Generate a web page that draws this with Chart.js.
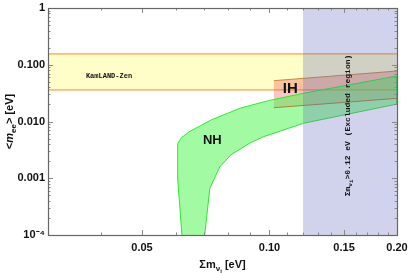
<!DOCTYPE html>
<html><head><meta charset="utf-8">
<script src="https://cdn.jsdelivr.net/npm/chart.js@4/dist/chart.umd.min.js"></script>
<style>html,body{margin:0;padding:0;background:#fff;}#wrap{width:409px;height:273px;position:relative;}</style>
</head><body><div id="wrap"><canvas id="c" width="409" height="273"></canvas></div>
<script>
// ---- data ----
const xRange = [0.03, 0.2];
const yRange = [1e-4, 1];
const xTickValues = [0.05, 0.10, 0.15, 0.20];
const xTickLabels = ['0.05', '0.10', '0.15', '0.20'];
const xMinorTicks = [0.04, 0.06, 0.07, 0.08, 0.09, 0.11, 0.12, 0.13, 0.14, 0.16, 0.17, 0.18, 0.19];
const yTickValues = [1e-4, 1e-3, 1e-2, 0.1, 1];
const yTickLabels = ['10⁻⁴', '0.001', '0.010', '0.100', '1'];
const yMinorTicks = [2e-4,3e-4,4e-4,5e-4,6e-4,7e-4,8e-4,9e-4,
                     2e-3,3e-3,4e-3,5e-3,6e-3,7e-3,8e-3,9e-3,
                     0.02,0.03,0.04,0.05,0.06,0.07,0.08,0.09,
                     0.2,0.3,0.4,0.5,0.6,0.7,0.8,0.9];
// KamLAND-Zen band
const kamlandX = [0.03, 0.2];
const kamlandLow = 0.036;
const kamlandHigh = 0.156;
// Inverted hierarchy band
const ihX = [0.1024, 0.2];
const ihUpper = [0.0524, 0.0776];
const ihLower = [0.0175, 0.0256];
// Normal hierarchy region outline
const nhX = [0.0622, 0.0607, 0.0607, 0.0620, 0.0645, 0.0727, 0.0855, 0.0995, 0.1202, 0.2,
             0.2, 0.1202, 0.0968, 0.0902, 0.0810, 0.0763, 0.0723, 0.0702];
const nhY = [9e-5, 0.00101, 0.00402, 0.00520, 0.00653, 0.0106, 0.0173, 0.0233, 0.0314, 0.0633,
             0.0203, 0.00929, 0.0054, 0.00423, 0.00257, 0.00158, 0.000665, 9e-5];
// Excluded region (sum of masses > 0.12 eV)
const excludedX = [0.12, 0.2];

const pts = (xs, ys) => xs.map((x, i) => ({x, y: ys[i]}));

const datasets = [
  { // excluded overlay
    data: pts([excludedX[0], excludedX[1], excludedX[1], excludedX[0]], [yRange[0], yRange[0], yRange[1], yRange[1]]),
    showLine: true, fill: 'shape', backgroundColor: 'rgba(100,110,190,0.3)', borderWidth: 0, borderColor: 'rgba(0,0,0,0)', order: 1
  },
  { data: pts(ihX, ihUpper), showLine: true, fill: false, borderColor: 'rgba(190,130,50,0.9)', borderWidth: 1, order: 2 },
  { data: pts(ihX, ihLower), showLine: true, fill: false, borderColor: 'rgba(170,120,50,0.9)', borderWidth: 1, order: 2 },
  { // NH
    data: pts(nhX.concat([nhX[0]]), nhY.concat([nhY[0]])),
    showLine: true, fill: 'shape', backgroundColor: 'rgba(70,245,70,0.5)', borderColor: '#2ee82e', borderWidth: 1, order: 3
  },
  { // IH fill
    data: pts([ihX[0], ihX[1], ihX[1], ihX[0]], [ihUpper[0], ihUpper[1], ihLower[1], ihLower[0]]),
    showLine: true, fill: 'shape', backgroundColor: 'rgba(240,80,80,0.33)', borderWidth: 0, borderColor: 'rgba(0,0,0,0)', order: 4
  },
  { data: pts(kamlandX, [kamlandHigh, kamlandHigh]), showLine: true, fill: false, borderColor: '#ffa040', borderWidth: 1.3, order: 5 },
  { data: pts(kamlandX, [kamlandLow, kamlandLow]), showLine: true, fill: false, borderColor: '#ffa040', borderWidth: 1.3, order: 5 },
  { // KamLAND fill
    data: pts([kamlandX[0], kamlandX[1], kamlandX[1], kamlandX[0]], [kamlandLow, kamlandLow, kamlandHigh, kamlandHigh]),
    showLine: true, fill: 'shape', backgroundColor: '#fffdc8', borderWidth: 0, borderColor: 'rgba(0,0,0,0)', order: 6
  }
];

function drawPieces(ctx, pieces, x, y) {
  let cx = x;
  for (const p of pieces) {
    ctx.font = p.font;
    ctx.fillText(p.t, cx, y + (p.dy || 0));
    cx += ctx.measureText(p.t).width;
  }
}
function piecesWidth(ctx, pieces) {
  let w = 0;
  for (const p of pieces) { ctx.font = p.font; w += ctx.measureText(p.t).width; }
  return w;
}

const decor = {
  id: 'decor',
  afterDatasetsDraw(chart) {
    const ctx = chart.ctx;
    const a = chart.chartArea;
    const xs = chart.scales.x, ys = chart.scales.y;
    ctx.save();
    ctx.strokeStyle = '#8a8a8a';
    ctx.lineWidth = 1;
    const tick = (v, len, axis) => {
      if (axis === 'x') {
        const px = Math.round(xs.getPixelForValue(v)) + 0.5;
        ctx.beginPath();
        ctx.moveTo(px, a.bottom); ctx.lineTo(px, a.bottom - len);
        ctx.moveTo(px, a.top); ctx.lineTo(px, a.top + len);
        ctx.stroke();
      } else {
        const py = Math.round(ys.getPixelForValue(v)) + 0.5;
        ctx.beginPath();
        ctx.moveTo(a.left, py); ctx.lineTo(a.left + len, py);
        ctx.moveTo(a.right, py); ctx.lineTo(a.right - len, py);
        ctx.stroke();
      }
    };
    xTickValues.forEach(v => tick(v, 5, 'x'));
    xMinorTicks.forEach(v => tick(v, 2.5, 'x'));
    yTickValues.forEach(v => tick(v, 5, 'y'));
    yMinorTicks.forEach(v => tick(v, 2.5, 'y'));
    ctx.strokeStyle = '#666';
    ctx.lineWidth = 1.2;
    ctx.strokeRect(Math.round(a.left) + 0.5, Math.round(a.top) + 0.5, Math.round(a.right - a.left), Math.round(a.bottom - a.top));

    ctx.fillStyle = '#111';
    ctx.font = 'bold 7px "Liberation Mono", "DejaVu Sans Mono", monospace';
    ctx.textAlign = 'center'; ctx.textBaseline = 'middle';
    ctx.fillText('KamLAND-Zen', xs.getPixelForValue(0.0418), ys.getPixelForValue(0.0635));
    ctx.font = 'bold 13px "Liberation Sans", Arial, sans-serif';
    ctx.fillText('NH', xs.getPixelForValue(0.0733), ys.getPixelForValue(0.0047));
    ctx.font = 'bold 15px "Liberation Sans", Arial, sans-serif';
    ctx.fillText('IH', xs.getPixelForValue(0.112), ys.getPixelForValue(0.0375));

    ctx.textAlign = 'left'; ctx.textBaseline = 'alphabetic';
    const monoB = 'bold 8px "Liberation Mono", "DejaVu Sans Mono", monospace';
    const monoS = 'bold 6px "Liberation Mono", "DejaVu Sans Mono", monospace';
    const exPieces = [{t: 'Σm', font: monoB}, {t: 'ν', font: monoS, dy: 2}, {t: 'i', font: monoS, dy: 3}, {t: '>0.12 eV (Excluded region)', font: monoB}];
    const exW = piecesWidth(ctx, exPieces);
    ctx.save();
    ctx.translate(xs.getPixelForValue(0.152) + 3, ys.getPixelForValue(0.0085));
    ctx.rotate(-Math.PI / 2);
    drawPieces(ctx, exPieces, -exW / 2, 0);
    ctx.restore();

    const sansB = 'bold 11px "Liberation Sans", Arial, sans-serif';
    const sansS = 'bold 8px "Liberation Sans", Arial, sans-serif';
    const xt = [{t: 'Σm', font: sansB}, {t: 'ν', font: sansS, dy: 3}, {t: 'i', font: 'bold 6px "Liberation Sans", Arial, sans-serif', dy: 5}, {t: ' [eV]', font: sansB}];
    const xtw = piecesWidth(ctx, xt);
    drawPieces(ctx, xt, (a.left + a.right) / 2 - xtw / 2, 268);

    const yt = [{t: '<', font: sansB}, {t: 'm', font: 'italic bold 11px "Liberation Sans", Arial, sans-serif'}, {t: 'ee', font: sansS, dy: 3}, {t: '> [eV]', font: sansB}];
    const ytw = piecesWidth(ctx, yt);
    ctx.save();
    ctx.translate(13, (a.top + a.bottom) / 2);
    ctx.rotate(-Math.PI / 2);
    drawPieces(ctx, yt, -ytw / 2, 0);
    ctx.restore();
    ctx.restore();
  }
};

const tickFont = {family: '"Liberation Sans", Arial, sans-serif', weight: 'bold', size: 11};

new Chart(document.getElementById('c'), {
  type: 'scatter',
  data: {datasets},
  options: {
    responsive: false,
    animation: false,
    devicePixelRatio: 1,
    layout: {padding: {top: 8, right: 12, left: 0, bottom: 0}},
    plugins: {legend: {display: false}, tooltip: {enabled: false}},
    elements: {point: {radius: 0, hoverRadius: 0}, line: {tension: 0}},
    scales: {
      x: {
        type: 'logarithmic', min: xRange[0], max: xRange[1],
        afterBuildTicks(s) { s.ticks = xTickValues.map(v => ({value: v})); },
        afterFit(s) { s.height = 38; s.paddingLeft = 0; s.paddingRight = 0; },
        grid: {display: false, drawTicks: false},
        border: {display: false},
        ticks: {padding: 6, font: tickFont, color: '#111', maxRotation: 0, autoSkip: false,
                callback: (v, i) => xTickLabels[i]}
      },
      y: {
        type: 'logarithmic', min: yRange[0], max: yRange[1],
        afterBuildTicks(s) { s.ticks = yTickValues.map(v => ({value: v})); },
        afterFit(s) { s.width = 48; s.paddingTop = 0; s.paddingBottom = 0; },
        grid: {display: false, drawTicks: false},
        border: {display: false},
        ticks: {padding: 3, font: tickFont, color: '#111', autoSkip: false,
                callback: (v, i) => yTickLabels[i]}
      }
    }
  },
  plugins: [decor]
});
</script>
</body></html>
